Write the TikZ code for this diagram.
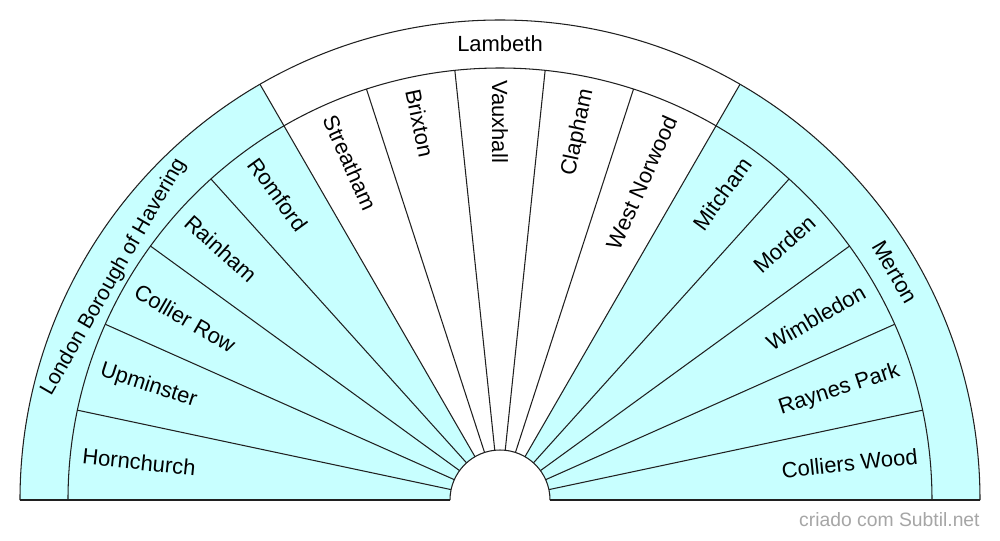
\documentclass[tikz,border=0pt]{standalone}
\usepackage{fontspec}
\setmainfont{Liberation Sans}
\definecolor{cy}{HTML}{C8FFFF}
\definecolor{ln}{HTML}{202020}
\begin{document}
\begin{tikzpicture}[scale=0.02,
  lab/.style={font=\fontsize{12.5}{14}\selectfont, inner sep=0pt},
  grp/.style={font=\fontsize{12.5}{14}\selectfont, inner sep=0pt}]
\useasboundingbox (-500,-40) rectangle (500,500);
\fill[white] (-500,-40) rectangle (500,500);
\fill[cy] (180:50) -- (180:480) arc[start angle=180,end angle=120,radius=480] -- (120:50) arc[start angle=120,end angle=180,radius=50] -- cycle;
\fill[cy] (60:50) -- (60:480) arc[start angle=60,end angle=0,radius=480] -- (0:50) arc[start angle=0,end angle=60,radius=50] -- cycle;
\draw[ln, line width=0.6pt] (-480,0) arc[start angle=180,end angle=0,radius=480];
\draw[ln, line width=0.6pt] (-432,0) arc[start angle=180,end angle=0,radius=432];
\draw[ln, line width=0.6pt] (-50,0) arc[start angle=180,end angle=0,radius=50];
\draw[ln, line width=0.6pt] (-480,0) -- (-50,0) (50,0) -- (480,0);
\foreach \a in {168,156,...,132,108,96,...,72,48,36,...,12} \draw[ln, line width=0.6pt] (\a:50) -- (\a:432);
\foreach \a in {120,60} \draw[ln, line width=0.6pt] (\a:50) -- (\a:480);
% leaf labels
\foreach \n [count=\i] in {Hornchurch,Upminster,Collier Row,Rainham,Romford,Streatham,Brixton,Vauxhall} {
  \pgfmathsetmacro\ang{186-12*\i}
  \node[lab, anchor=west, rotate=\ang-180] (L\i) at (\ang:420) {\n};
}
\foreach \n [count=\i] in {Colliers Wood,Raynes Park,Wimbledon,Morden,Mitcham,West Norwood,Clapham} {
  \pgfmathsetmacro\ang{-6+12*\i}
  \node[lab, anchor=east, rotate=\ang] (R\i) at (\ang:420) {\n};
}
\node[grp, rotate=60, font=\fontsize{12}{14}\selectfont] (G1) at (150:446) {London Borough of Havering};
\node[grp] (G2) at (90:456) {Lambeth};
\node[grp, rotate=-60] (G3) at (30:456) {Merton};
\node[font=\fontsize{11}{13}\selectfont, text=gray!70, anchor=east, inner sep=0pt] (ft) at (480,-20) {criado com Subtil.net};
\end{tikzpicture}
\end{document}
